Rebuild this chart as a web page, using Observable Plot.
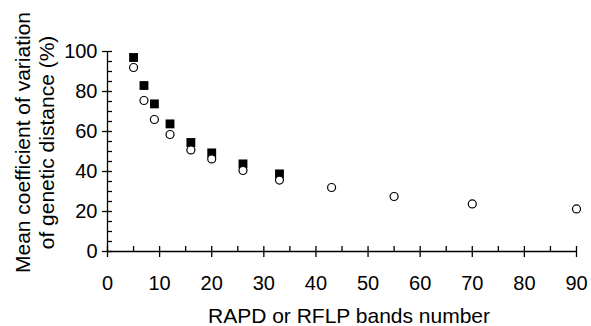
<!DOCTYPE html>
<html>
<head>
<meta charset="utf-8">
<script src="https://cdn.jsdelivr.net/npm/d3@7"></script>
<script src="https://cdn.jsdelivr.net/npm/@observablehq/plot@0.6"></script>
<style>
  html, body { margin: 0; padding: 0; background: #fff; }
  #chart svg { display: block; }
</style>
</head>
<body>
<div id="chart"></div>
<script>
// Data
const bandsSquares = [5, 7, 9, 12, 16, 20, 26, 33];
const cvSquares    = [97, 83, 73.8, 63.8, 54.5, 49.3, 43.8, 38.8];
const bandsCircles = [5, 7, 9, 12, 16, 20, 26, 33, 43, 55, 70, 90];
const cvCircles    = [92, 75.5, 66, 58.5, 50.8, 46.3, 40.5, 35.7, 32, 27.5, 23.8, 21.3];
const xMajorTicks = [0, 10, 20, 30, 40, 50, 60, 70, 80, 90];
const xMinorTicks = [5, 15, 25, 35, 45, 55, 65, 75, 85];
const yMajorTicks = [0, 20, 40, 60, 80, 100];
const yMinorTicks = [5, 10, 15, 25, 30, 35, 45, 50, 55, 65, 70, 75, 85, 90, 95];
const xTitle = "RAPD or RFLP bands number";
const yTitle = "Mean coefficient of variation\nof genetic distance (%)";

const squares = bandsSquares.map((b, i) => ({bands: b, cv: cvSquares[i]}));
const circles = bandsCircles.map((b, i) => ({bands: b, cv: cvCircles[i]}));

const W = 591, H = 326;
const mL = 107, mR = 15, mT = 51, mB = 75;
const frameW = W - mL - mR, frameH = H - mT - mB;
const font = "'Liberation Sans', Arial, sans-serif";

const chart = Plot.plot({
  width: W, height: H,
  marginLeft: mL, marginRight: mR, marginTop: mT, marginBottom: mB,
  style: {fontFamily: font, background: "#fff", color: "#000"},
  x: {domain: [0, 90]},
  y: {domain: [0, 100]},
  marks: [
    // axis lines
    Plot.ruleY([0], {stroke: "#000", strokeWidth: 1.3}),
    Plot.ruleX([0], {stroke: "#000", strokeWidth: 1.3}),
    // x ticks: major cross the axis, minor point inward
    Plot.axisX({ticks: xMajorTicks, tickSize: 6, tickPadding: 18, fontSize: 20, label: null, strokeWidth: 1.3, tickFormat: d => String(d)}),
    Plot.tickX(xMajorTicks, {x: d => d, insetTop: frameH - 5, stroke: "#000", strokeWidth: 1.3}),
    Plot.tickX(xMinorTicks, {x: d => d, insetTop: frameH - 5, stroke: "#000", strokeWidth: 1.3}),
    // y ticks
    Plot.axisY({ticks: yMajorTicks, tickSize: 5, tickPadding: 5, fontSize: 20, label: null, strokeWidth: 1.3, tickFormat: d => String(d)}),
    Plot.tickY(yMajorTicks, {y: d => d, insetRight: frameW - 5, stroke: "#000", strokeWidth: 1.3}),
    Plot.tickY(yMinorTicks, {y: d => d, insetRight: frameW - 5, stroke: "#000", strokeWidth: 1.3}),
    // titles
    Plot.text([xTitle], {frameAnchor: "bottom", dx: 7, dy: 57, lineAnchor: "top", textAnchor: "middle", fontSize: 21, fill: "#000"}),
    Plot.text([yTitle], {frameAnchor: "left", dx: -73, dy: -9, rotate: -90, textAnchor: "middle", lineAnchor: "middle", lineHeight: 1.15, fontSize: 21, fill: "#000"}),
    // data
    Plot.dot(squares, {x: "bands", y: "cv", symbol: "square", r: 5, fill: "#000", stroke: "none"}),
    Plot.dot(circles, {x: "bands", y: "cv", r: 4, fill: "#fff", stroke: "#000", strokeWidth: 1.2})
  ]
});
document.getElementById("chart").appendChild(chart);
</script>
</body>
</html>
